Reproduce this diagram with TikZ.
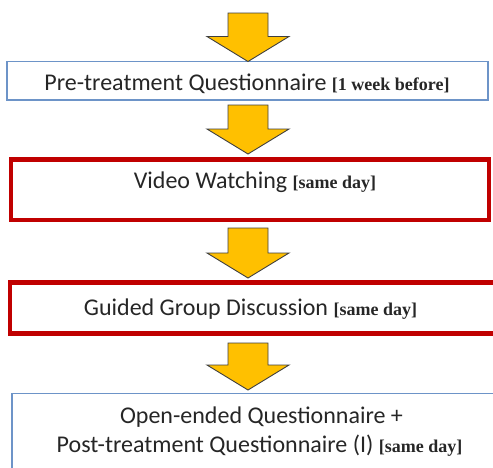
\documentclass[tikz,border=0pt]{standalone}
\usepackage{fontspec}
\setmainfont{Carlito}
\newfontfamily\bracketfont{Liberation Serif}
\usetikzlibrary{calc, positioning}

\definecolor{arrowgold}{HTML}{FFC000}
\definecolor{arrowedge}{HTML}{3F3F3F}
\definecolor{boxblue}{HTML}{6D94C8}
\definecolor{boxred}{HTML}{C00000}
\definecolor{textgray}{HTML}{262626}

\NewDocumentCommand{\when}{m}{{\bracketfont\bfseries\fontsize{18}{20}\selectfont[#1]}}

\NewDocumentCommand{\flowarrow}{%
    O{}   % drawing options
    mm    % start and tip of the arrow
    }{%
    \draw[flow arrow,#1] let
        \p1 = #2,
        \p2 = #3
    in
        (\x1-20pt,\y1) -- (\x1-20pt,\y2+25pt) -- (\x1-41pt,\y2+25pt)
        -- (\x2,\y2) -- (\x1+41pt,\y2+25pt) -- (\x1+20pt,\y2+25pt)
        -- (\x1+20pt,\y1) -- cycle;
}

\begin{document}
\begin{tikzpicture}[x=1pt, y=-1pt,
    flow arrow/.style={fill=arrowgold, draw=arrowedge, line width=0.9pt, line join=miter},
    blue box/.style={draw=boxblue, line width=1.2pt, inner sep=0pt, outer sep=0pt},
    red box/.style={draw=boxred, line width=4.5pt, inner sep=0pt, outer sep=0pt},
    step text/.style={text=textgray, font=\fontsize{24}{29}\selectfont, anchor=base, inner sep=0pt}]
    \useasboundingbox (0,0) rectangle (493,467);
    \clip (0,0) rectangle (493,467);
    \coordinate (top) at (248,13);

    % the four steps
    \node[blue box, minimum width=481pt, minimum height=38.5pt] (pre) at (247.5,80.75) {};
    \node[red box, minimum width=478pt, minimum height=60.5pt] (video) at (250,189.75) {};
    \node[red box, minimum width=486pt, minimum height=51pt] (discussion) at (253,308) {};
    \node[blue box, minimum width=496pt, minimum height=120pt] (post) at (260,453.3) {};

    \node[step text] (pretext) at (247,90) {Pre-treatment Questionnaire \when{1 week before}};
    \node[step text] (videotext) at (255,188) {Video Watching \when{same day}};
    \node[step text] (discussiontext) at (250.5,315) {Guided Group Discussion \when{same day}};
    \node[step text] (posttexta) at (261.5,423) {Open-ended Questionnaire +};
    \node[step text] (posttextb) at (259.5,452) {Post-treatment Questionnaire (I) \when{same day}};

    % block arrows between the steps
    \flowarrow{(top)}{(pre.north -| top)}
    \flowarrow{($(pre.south -| top)+(0,5)$)}{($(video.north -| top)+(0,-5.5)$)}
    \flowarrow{($(video.south -| top)+(0,8)$)}{($(discussion.north -| top)+(0,-4.5)$)}
    \flowarrow{($(discussion.south -| top)+(0,9.5)$)}{($(post.north -| top)+(0,-3.3)$)}
\end{tikzpicture}
\end{document}
